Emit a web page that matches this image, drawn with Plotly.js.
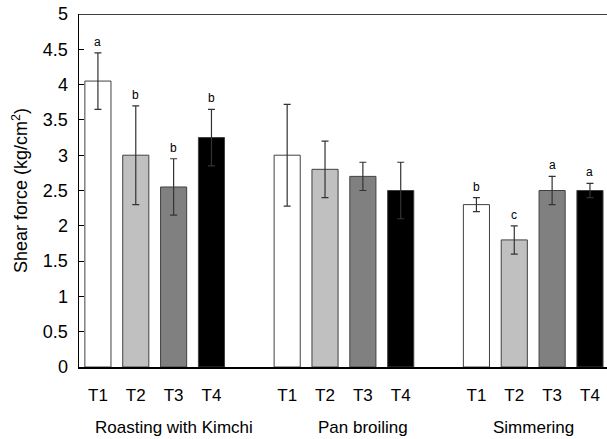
<!DOCTYPE html>
<html>
<head>
<meta charset="utf-8">
<script src="https://cdn.plot.ly/plotly-3.0.1.min.js"></script>
<style>html,body{margin:0;padding:0;background:#fff;}#chart{width:607px;height:439px;}</style>
</head>
<body>
<div id="chart"></div>
<script>
// Data
const groups = ["Roasting with Kimchi", "Pan broiling", "Simmering"];
const treatments = ["T1", "T2", "T3", "T4"];
const values = [
  [4.05, 3.00, 2.55, 3.25],
  [3.00, 2.80, 2.70, 2.50],
  [2.30, 1.80, 2.50, 2.50]
];
const errors = [
  [0.40, 0.70, 0.40, 0.40],
  [0.72, 0.40, 0.20, 0.40],
  [0.10, 0.20, 0.20, 0.10]
];
const letters = [
  ["a", "b", "b", "b"],
  ["", "", "", ""],
  ["b", "c", "a", "a"]
];
const treatmentColors = ["#ffffff", "#c0c0c0", "#808080", "#000000"];
const groupLabelPos = [2.0, 7.0, 11.5];

const FONT = 'Liberation Sans, Arial, sans-serif';
const traces = [];
const tickvals = [], ticktext = [];
const annotations = [];
treatments.forEach((t, i) => {
  const xs = [], ys = [], es = [];
  groups.forEach((g, gi) => {
    const x = gi * 5 + i;
    xs.push(x); ys.push(values[gi][i]); es.push(errors[gi][i]);
    tickvals.push(x); ticktext.push(t);
    if (letters[gi][i]) {
      annotations.push({
        x: x, y: values[gi][i] + errors[gi][i], xref: 'x', yref: 'y',
        text: letters[gi][i], showarrow: false, yanchor: 'bottom', yshift: 2,
        font: {family: FONT, size: 12, color: '#000000'}
      });
    }
  });
  traces.push({
    type: 'bar', x: xs, y: ys, width: 0.69, name: t,
    marker: {color: treatmentColors[i], line: {color: '#404040', width: 1}},
    error_y: {type: 'data', array: es, visible: true, color: '#333333', thickness: 1.2, width: 3.5}
  });
});
groups.forEach((g, gi) => {
  annotations.push({
    x: groupLabelPos[gi], y: 0, xref: 'x', yref: 'paper', yanchor: 'middle', yshift: -60,
    text: g, showarrow: false,
    font: {family: FONT, size: 17, color: '#000000'}
  });
});

const layout = {
  width: 607, height: 439,
  margin: {l: 79, r: 0, t: 14, b: 72},
  paper_bgcolor: '#fff', plot_bgcolor: '#fff',
  showlegend: false,
  barmode: 'overlay',
  font: {family: FONT, size: 16, color: '#000'},
  xaxis: {
    range: [-0.5, 13.45], tickvals: tickvals, ticktext: ticktext,
    showgrid: false, zeroline: false, showline: true, linecolor: '#000', linewidth: 1.5,
    ticks: '', ticklabelstandoff: 12, tickfont: {family: FONT, size: 17, color: '#000'}
  },
  yaxis: {
    range: [0, 5], dtick: 0.5, tick0: 0, showgrid: false, zeroline: false,
    showline: true, linecolor: '#000', linewidth: 1.5,
    ticks: 'inside', ticklen: 5, tickcolor: '#000', tickwidth: 1,
    ticklabelstandoff: 6, tickfont: {family: FONT, size: 18, color: '#000'},
    title: {text: 'Shear force (kg/cm<sup>2</sup>)', font: {family: FONT, size: 18, color: '#000'}, standoff: 10}
  },
  shapes: [{type: 'line', xref: 'paper', yref: 'y', x0: 0, x1: 1, y0: 5, y1: 5, line: {color: '#000', width: 1.5}}],
  annotations: annotations
};
Plotly.newPlot('chart', traces, layout, {displayModeBar: false, staticPlot: true});
</script>
</body>
</html>
